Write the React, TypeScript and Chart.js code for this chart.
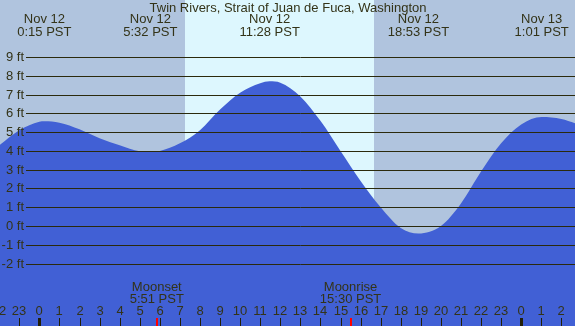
import React, { useEffect, useRef } from "react";
import { Chart, registerables } from "chart.js";

Chart.register(...registerables);

const TITLE = "Twin Rivers, Strait of Juan de Fuca, Washington";

// hours relative to midnight Nov 12 (PST)
const tideHours = [-2, -1, 0, 0.25, 1, 2, 3, 4, 5, 5.53, 6, 7, 8, 9, 10, 11, 11.47, 12, 13, 14, 15, 16, 17, 18, 18.88, 20, 21, 22, 23, 24, 25.02, 26, 26.7];
const tideFeet = [4.3, 5.1, 5.55, 5.58, 5.5, 5.15, 4.67, 4.3, 3.98, 3.95, 4.0, 4.4, 5.1, 6.2, 7.1, 7.6, 7.7, 7.63, 6.9, 5.6, 4.0, 2.4, 1.0, -0.1, -0.4, 0.0, 1.2, 2.9, 4.4, 5.4, 5.8, 5.7, 5.47];

const extremeHours = [0.25, 5.53, 11.47, 18.88, 25.02];
const extremeDates = ["Nov 12", "Nov 12", "Nov 12", "Nov 12", "Nov 13"];
const extremeTimes = ["0:15 PST", "5:32 PST", "11:28 PST", "18:53 PST", "1:01 PST"];

const sunriseHour = 7.26;
const sunsetHour = 16.67;

const moonHours = [5.85, 15.5];
const moonNames = ["Moonset", "Moonrise"];
const moonTimes = ["5:51 PST", "15:30 PST"];

const yTicks = [-2, -1, 0, 1, 2, 3, 4, 5, 6, 7, 8, 9];
const hourTicks = [-2, -1, 0, 1, 2, 3, 4, 5, 6, 7, 8, 9, 10, 11, 12, 13, 14, 15, 16, 17, 18, 19, 20, 21, 22, 23, 24, 25, 26];

const X_MIN = -1.96;
const X_MAX = 26.68;
const Y_MIN = -5.32;
const Y_MAX = 12.03;

const TEXT = "#333318";
const FONT = "13px 'Liberation Sans', Arial, sans-serif";

const bgPlugin = {
  id: "tideBg",
  beforeDatasetsDraw(chart: any) {
    const { ctx, chartArea } = chart;
    const xs = chart.scales.x;
    const x1 = Math.round(xs.getPixelForValue(sunriseHour));
    const x2 = Math.round(xs.getPixelForValue(sunsetHour));
    ctx.save();
    ctx.fillStyle = "#B0C4DE";
    ctx.fillRect(chartArea.left, chartArea.top, chartArea.right - chartArea.left, chartArea.bottom - chartArea.top);
    ctx.fillStyle = "#DDF7FE";
    ctx.fillRect(x1, chartArea.top, x2 - x1, chartArea.bottom - chartArea.top);
    ctx.restore();
  },
};

const overlayPlugin = {
  id: "tideOverlay",
  afterDatasetsDraw(chart: any) {
    const { ctx, chartArea } = chart;
    const xs = chart.scales.x;
    const ys = chart.scales.y;
    ctx.save();
    // grid lines
    ctx.strokeStyle = "#2b2a0c";
    ctx.lineWidth = 1;
    ctx.font = FONT;
    ctx.fillStyle = TEXT;
    ctx.textBaseline = "middle";
    yTicks.forEach((v) => {
      const y = Math.round(ys.getPixelForValue(v)) + 0.5;
      ctx.beginPath();
      ctx.moveTo(26, y);
      ctx.lineTo(chartArea.right, y);
      ctx.stroke();
      ctx.textAlign = "right";
      ctx.fillText(v + " ft", 24, y);
    });
    // title
    ctx.textAlign = "center";
    ctx.fillText(TITLE, 288, 8);
    // extremes
    extremeHours.forEach((h, i) => {
      const x = xs.getPixelForValue(h);
      ctx.fillText(extremeDates[i], x, 19);
      ctx.fillText(extremeTimes[i], x, 32);
    });
    // hour ticks
    hourTicks.forEach((h) => {
      const x = Math.round(xs.getPixelForValue(h));
      const label = String(((h % 24) + 24) % 24);
      ctx.fillStyle = TEXT;
      ctx.fillText(label, x, 311);
      if (label === "0") {
        ctx.fillStyle = "#221f08";
        ctx.fillRect(x - 1, 318, 3, 8);
      } else {
        ctx.fillStyle = "#221f08";
        ctx.fillRect(x, 318, 1, 8);
      }
    });
    // moon
    moonHours.forEach((h, i) => {
      const x = xs.getPixelForValue(h);
      ctx.fillStyle = TEXT;
      ctx.fillText(moonNames[i], x, 287);
      ctx.fillText(moonTimes[i], x, 299);
      ctx.fillStyle = "#ff0000";
      ctx.fillRect(Math.round(x) - 1, 318, 2, 8);
    });
    ctx.restore();
  },
};

export default function App() {
  const ref = useRef<HTMLCanvasElement>(null);
  useEffect(() => {
    document.body.style.margin = "0";
    const chart = new Chart(ref.current as HTMLCanvasElement, {
      type: "line",
      data: {
        datasets: [
          {
            data: tideHours.map((h, i) => ({ x: h, y: tideFeet[i] })),
            borderWidth: 0,
            borderColor: "rgba(0,0,0,0)",
            backgroundColor: "rgb(65,96,213)",
            fill: "start",
            pointRadius: 0,
            cubicInterpolationMode: "monotone",
          },
        ],
      },
      options: {
        animation: false,
        responsive: false,
        devicePixelRatio: 1,
        layout: { padding: 0 },
        plugins: { legend: { display: false }, tooltip: { enabled: false }, title: { display: false } },
        scales: {
          x: { type: "linear", min: X_MIN, max: X_MAX, display: false },
          y: { type: "linear", min: Y_MIN, max: Y_MAX, display: false },
        },
      },
      plugins: [bgPlugin, overlayPlugin],
    } as any);
    return () => chart.destroy();
  }, []);
  return (
    <div style={{ position: "fixed", left: 0, top: 0, width: 575, height: 326 }}>
      <canvas ref={ref} width={575} height={326} style={{ display: "block", width: 575, height: 326 }} />
    </div>
  );
}
